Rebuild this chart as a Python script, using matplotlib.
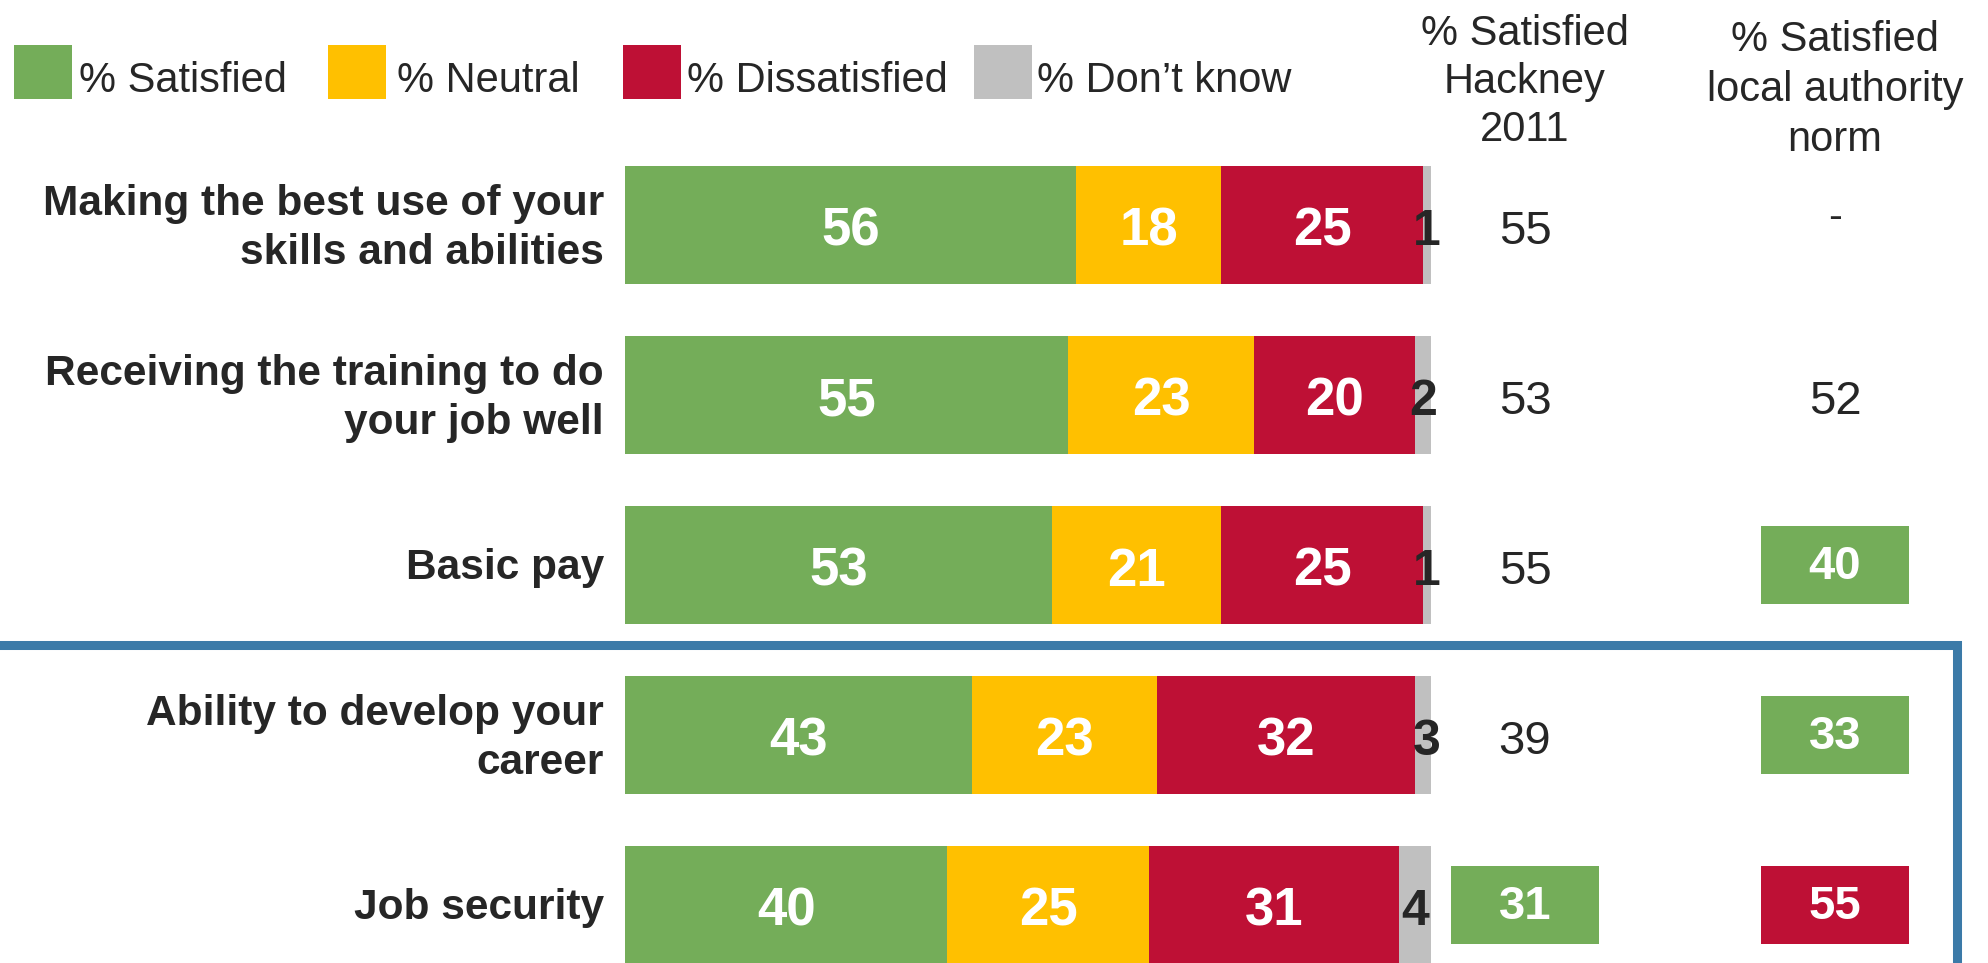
import matplotlib
matplotlib.use("Agg")
import matplotlib.pyplot as plt
from matplotlib import font_manager
from matplotlib.patches import Rectangle
from matplotlib.lines import Line2D

# ---- data -------------------------------------------------------------
categories = [
    "Making the best use of your\nskills and abilities",
    "Receiving the training to do\nyour job well",
    "Basic pay",
    "Ability to develop your\ncareer",
    "Job security",
]
satisfied = [56, 55, 53, 43, 40]
neutral = [18, 23, 21, 23, 25]
dissatisfied = [25, 20, 25, 32, 31]
dont_know = [1, 2, 1, 3, 4]

hackney_2011 = [55, 53, 55, 39, 31]
hackney_significant = [False, False, False, False, True]
la_norm = [None, 52, 40, 33, 55]
la_significant = [False, False, True, True, True]

series_names = ["% Satisfied", "% Neutral", "% Dissatisfied", "% Don\u2019t know"]
series_colors = ["#74AD59", "#FFC000", "#BE1035", "#C0C0C0"]
hackney_header = "% Satisfied\nHackney\n2011"
la_header = "% Satisfied\nlocal authority\nnorm"

TEXT = "#262626"
FRAME = "#3B7AA8"


def pick_font(names):
    for n in names:
        try:
            font_manager.findfont(font_manager.FontProperties(family=n),
                                  fallback_to_default=False)
            return n
        except Exception:
            continue
    return "DejaVu Sans"


SANS = pick_font(["Liberation Sans", "Arial"])
plt.rcParams["font.family"] = [SANS, "DejaVu Sans"]

# ---- figure -----------------------------------------------------------
W, H = 1988, 963
fig = plt.figure(figsize=(W / 100, H / 100), dpi=100)
fig.patch.set_facecolor("white")

# bar area: 0..100 % spans x = 625..1431 px; rows 170 px apart
ax = fig.add_axes([625 / W, 0, 806 / W, 1])
ax.set_xlim(0, 100)
row_px, first_px = 170.0, 225.0
ax.set_ylim((H - first_px) / row_px, -first_px / row_px)
ax.axis("off")


def py(pix):
    """vertical pixel (from top) -> row coordinate"""
    return (pix - first_px) / row_px


def px(pix):
    """horizontal pixel -> percent coordinate"""
    return (pix - 625) / 8.06


rows = list(range(len(categories)))
series = [satisfied, neutral, dissatisfied, dont_know]
lefts = [0] * len(rows)
bar_h = 118 / row_px
for k, (vals, col) in enumerate(zip(series, series_colors)):
    ax.barh(rows, vals, left=lefts, height=bar_h, color=col, linewidth=0)
    for r, v, l in zip(rows, vals, lefts):
        ax.text(l + v / 2, r + 0.04, f"{v}", ha="center", va="center",
                color="white" if k < 3 else TEXT, fontsize=38 if k < 3 else 36,
                fontweight="bold", clip_on=False)
    lefts = [l + v for l, v in zip(lefts, vals)]

# category labels
for r, lab in zip(rows, categories):
    ax.text(px(604), r + 0.02, lab, ha="right", va="center", fontsize=30.5,
            fontweight="bold", color=TEXT, linespacing=1.3, clip_on=False)

# comparison columns
hack_x, la_x = px(1525), px(1835)
box_w, box_h = 148 / 8.06, 78 / row_px


def comparison(x, vals, sig):
    for r, v, s, cur in zip(rows, vals, sig, satisfied):
        if v is None:
            ax.text(x, r - 0.04, "-", ha="center", va="center", fontsize=30,
                    color=TEXT, clip_on=False)
            continue
        if s:
            col = series_colors[0] if cur > v else series_colors[2]
            ax.add_patch(Rectangle((x - box_w / 2, r - box_h / 2), box_w, box_h,
                                   facecolor=col, edgecolor="none",
                                   clip_on=False))
            ax.text(x, r + 0.01, f"{v}", ha="center", va="center", fontsize=34,
                    fontweight="bold", color="white", clip_on=False)
        else:
            ax.text(x, r + 0.04, f"{v}", ha="center", va="center", fontsize=34,
                    color=TEXT, clip_on=False)


comparison(hack_x, hackney_2011, hackney_significant)
comparison(la_x, la_norm, la_significant)

ax.text(hack_x, py(82), hackney_header, ha="center", va="center",
        fontsize=30, color=TEXT, linespacing=1.27, clip_on=False)
ax.text(la_x, py(90), la_header, ha="center", va="center",
        fontsize=30, color=TEXT, linespacing=1.33, clip_on=False)

# legend
patch_x = [14, 328, 623, 974]
label_x = [79, 397, 687, 1037]
for name, col, x0, tx in zip(series_names, series_colors, patch_x, label_x):
    fig.add_artist(Rectangle((x0 / W, 1 - 99 / H), 58 / W, 54 / H,
                             transform=fig.transFigure, facecolor=col,
                             edgecolor="none"))
    fig.text(tx / W, 1 - 92 / H, name, ha="left", va="baseline",
             fontsize=30, color=TEXT)

# highlight frame around the lower group
yh = 1 - 644.5 / H
xv = 1957 / W
fig.add_artist(Line2D([0, xv, xv], [yh, yh, -0.02], transform=fig.transFigure,
                      color=FRAME, linewidth=6.5, solid_joinstyle="miter"))

fig.savefig("out.png", dpi=100)
